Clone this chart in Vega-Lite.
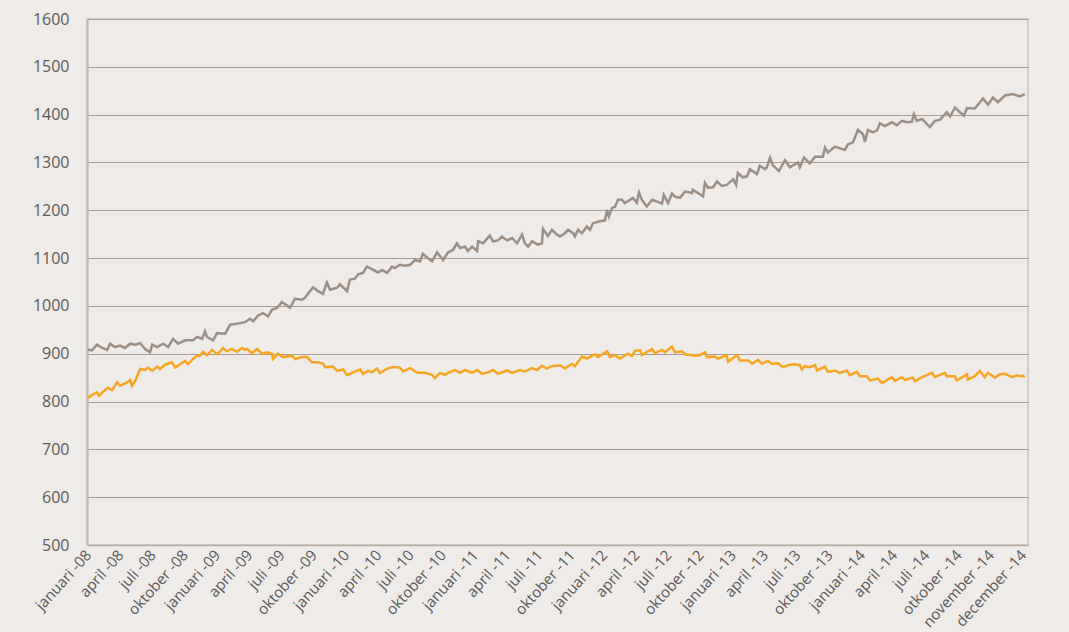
{
  "$schema": "https://vega.github.io/schema/vega-lite/v6.json",
  "width": 941,
  "height": 526,
  "autosize": {"type": "none"},
  "padding": {"left": 87, "top": 19, "right": 41, "bottom": 87},
  "background": "#efebe8",
  "config": {
    "font": "Open Sans",
    "view": {"stroke": "#cdc5be", "strokeWidth": 1.5}
  },
  "datasets": {
    "grey": [
      {"d":0,"v":909},{"d":11,"v":907},{"d":25,"v":919},{"d":40,"v":912},{"d":54,"v":908},{"d":62,"v":921},{"d":76,"v":914},{"d":90,"v":917},{"d":104,"v":912},{"d":119,"v":921},{"d":133,"v":919},{"d":147,"v":922},{"d":161,"v":910},{"d":175,"v":903},{"d":181,"v":919},{"d":195,"v":914},{"d":212,"v":921},{"d":226,"v":914},{"d":240,"v":931},{"d":254,"v":921},{"d":274,"v":928},{"d":296,"v":928},{"d":308,"v":935},{"d":322,"v":931},{"d":330,"v":947},{"d":336,"v":935},{"d":353,"v":928},{"d":364,"v":943},{"d":387,"v":942},{"d":401,"v":961},{"d":415,"v":962},{"d":429,"v":964},{"d":443,"v":966},{"d":457,"v":973},{"d":466,"v":968},{"d":480,"v":980},{"d":494,"v":985},{"d":508,"v":978},{"d":519,"v":992},{"d":533,"v":996},{"d":547,"v":1008},{"d":562,"v":1001},{"d":570,"v":996},{"d":584,"v":1015},{"d":604,"v":1013},{"d":612,"v":1017},{"d":635,"v":1039},{"d":649,"v":1031},{"d":663,"v":1025},{"d":674,"v":1049},{"d":683,"v":1034},{"d":703,"v":1038},{"d":711,"v":1045},{"d":731,"v":1031},{"d":739,"v":1055},{"d":753,"v":1057},{"d":762,"v":1066},{"d":776,"v":1069},{"d":787,"v":1082},{"d":804,"v":1076},{"d":818,"v":1070},{"d":830,"v":1075},{"d":844,"v":1069},{"d":858,"v":1082},{"d":866,"v":1079},{"d":880,"v":1086},{"d":895,"v":1084},{"d":909,"v":1086},{"d":923,"v":1096},{"d":937,"v":1093},{"d":945,"v":1109},{"d":959,"v":1100},{"d":971,"v":1093},{"d":985,"v":1112},{"d":1002,"v":1096},{"d":1016,"v":1112},{"d":1030,"v":1117},{"d":1041,"v":1131},{"d":1050,"v":1121},{"d":1064,"v":1124},{"d":1072,"v":1115},{"d":1084,"v":1124},{"d":1098,"v":1115},{"d":1101,"v":1135},{"d":1115,"v":1131},{"d":1134,"v":1147},{"d":1143,"v":1135},{"d":1157,"v":1137},{"d":1168,"v":1145},{"d":1183,"v":1137},{"d":1197,"v":1142},{"d":1211,"v":1131},{"d":1225,"v":1149},{"d":1233,"v":1131},{"d":1242,"v":1124},{"d":1253,"v":1135},{"d":1270,"v":1128},{"d":1281,"v":1131},{"d":1284,"v":1161},{"d":1298,"v":1146},{"d":1309,"v":1159},{"d":1324,"v":1149},{"d":1332,"v":1145},{"d":1346,"v":1152},{"d":1355,"v":1159},{"d":1369,"v":1152},{"d":1374,"v":1145},{"d":1383,"v":1159},{"d":1394,"v":1152},{"d":1408,"v":1166},{"d":1417,"v":1159},{"d":1425,"v":1173},{"d":1445,"v":1177},{"d":1459,"v":1179},{"d":1465,"v":1201},{"d":1470,"v":1187},{"d":1479,"v":1205},{"d":1487,"v":1207},{"d":1496,"v":1222},{"d":1507,"v":1222},{"d":1515,"v":1215},{"d":1530,"v":1222},{"d":1538,"v":1226},{"d":1549,"v":1216},{"d":1555,"v":1237},{"d":1563,"v":1222},{"d":1577,"v":1208},{"d":1592,"v":1222},{"d":1606,"v":1218},{"d":1620,"v":1214},{"d":1625,"v":1232},{"d":1637,"v":1215},{"d":1648,"v":1235},{"d":1657,"v":1228},{"d":1671,"v":1226},{"d":1685,"v":1239},{"d":1705,"v":1236},{"d":1707,"v":1243},{"d":1736,"v":1229},{"d":1741,"v":1257},{"d":1750,"v":1247},{"d":1764,"v":1248},{"d":1775,"v":1260},{"d":1789,"v":1251},{"d":1803,"v":1253},{"d":1821,"v":1265},{"d":1829,"v":1253},{"d":1834,"v":1278},{"d":1848,"v":1269},{"d":1860,"v":1271},{"d":1868,"v":1286},{"d":1888,"v":1276},{"d":1896,"v":1293},{"d":1911,"v":1286},{"d":1916,"v":1290},{"d":1925,"v":1310},{"d":1933,"v":1294},{"d":1950,"v":1282},{"d":1967,"v":1305},{"d":1981,"v":1290},{"d":2004,"v":1300},{"d":2009,"v":1290},{"d":2021,"v":1310},{"d":2037,"v":1298},{"d":2052,"v":1312},{"d":2074,"v":1312},{"d":2080,"v":1331},{"d":2088,"v":1321},{"d":2108,"v":1333},{"d":2136,"v":1326},{"d":2145,"v":1338},{"d":2159,"v":1342},{"d":2173,"v":1368},{"d":2187,"v":1359},{"d":2193,"v":1343},{"d":2201,"v":1368},{"d":2215,"v":1363},{"d":2227,"v":1367},{"d":2235,"v":1382},{"d":2249,"v":1376},{"d":2269,"v":1384},{"d":2283,"v":1378},{"d":2297,"v":1387},{"d":2311,"v":1384},{"d":2325,"v":1385},{"d":2331,"v":1401},{"d":2339,"v":1387},{"d":2354,"v":1391},{"d":2376,"v":1374},{"d":2390,"v":1387},{"d":2404,"v":1389},{"d":2424,"v":1405},{"d":2433,"v":1396},{"d":2447,"v":1415},{"d":2461,"v":1405},{"d":2472,"v":1398},{"d":2481,"v":1414},{"d":2503,"v":1413},{"d":2526,"v":1434},{"d":2540,"v":1421},{"d":2554,"v":1436},{"d":2568,"v":1426},{"d":2588,"v":1440},{"d":2610,"v":1443},{"d":2630,"v":1438},{"d":2644,"v":1443}
    ],
    "orange": [
      {"d":0,"v":807},{"d":11,"v":814},{"d":25,"v":819},{"d":31,"v":812},{"d":42,"v":820},{"d":56,"v":829},{"d":68,"v":824},{"d":82,"v":840},{"d":90,"v":833},{"d":110,"v":840},{"d":119,"v":845},{"d":124,"v":833},{"d":133,"v":843},{"d":147,"v":868},{"d":161,"v":866},{"d":169,"v":871},{"d":181,"v":864},{"d":195,"v":873},{"d":203,"v":868},{"d":217,"v":877},{"d":237,"v":882},{"d":246,"v":871},{"d":274,"v":885},{"d":282,"v":878},{"d":296,"v":889},{"d":308,"v":896},{"d":316,"v":896},{"d":325,"v":904},{"d":336,"v":897},{"d":350,"v":908},{"d":364,"v":899},{"d":373,"v":905},{"d":381,"v":912},{"d":392,"v":905},{"d":406,"v":910},{"d":420,"v":904},{"d":435,"v":912},{"d":443,"v":908},{"d":449,"v":910},{"d":463,"v":901},{"d":477,"v":910},{"d":491,"v":900},{"d":505,"v":903},{"d":519,"v":900},{"d":522,"v":889},{"d":536,"v":900},{"d":550,"v":893},{"d":576,"v":896},{"d":584,"v":889},{"d":604,"v":893},{"d":618,"v":893},{"d":632,"v":882},{"d":646,"v":882},{"d":663,"v":880},{"d":669,"v":872},{"d":691,"v":873},{"d":703,"v":864},{"d":720,"v":867},{"d":731,"v":855},{"d":748,"v":861},{"d":768,"v":867},{"d":776,"v":858},{"d":790,"v":864},{"d":801,"v":861},{"d":816,"v":869},{"d":824,"v":859},{"d":844,"v":869},{"d":861,"v":872},{"d":880,"v":871},{"d":889,"v":863},{"d":909,"v":870},{"d":923,"v":863},{"d":931,"v":860},{"d":951,"v":860},{"d":971,"v":856},{"d":979,"v":849},{"d":993,"v":860},{"d":1007,"v":856},{"d":1016,"v":860},{"d":1036,"v":866},{"d":1050,"v":860},{"d":1064,"v":866},{"d":1084,"v":860},{"d":1098,"v":866},{"d":1112,"v":858},{"d":1129,"v":861},{"d":1143,"v":866},{"d":1157,"v":858},{"d":1183,"v":865},{"d":1197,"v":860},{"d":1219,"v":866},{"d":1233,"v":863},{"d":1253,"v":870},{"d":1267,"v":866},{"d":1281,"v":875},{"d":1295,"v":869},{"d":1309,"v":874},{"d":1332,"v":876},{"d":1346,"v":869},{"d":1366,"v":879},{"d":1374,"v":874},{"d":1394,"v":894},{"d":1408,"v":890},{"d":1431,"v":899},{"d":1439,"v":893},{"d":1465,"v":905},{"d":1473,"v":893},{"d":1487,"v":897},{"d":1501,"v":890},{"d":1524,"v":900},{"d":1535,"v":895},{"d":1544,"v":906},{"d":1558,"v":907},{"d":1563,"v":897},{"d":1592,"v":910},{"d":1600,"v":901},{"d":1620,"v":908},{"d":1628,"v":903},{"d":1648,"v":915},{"d":1657,"v":903},{"d":1676,"v":905},{"d":1685,"v":899},{"d":1713,"v":896},{"d":1727,"v":897},{"d":1741,"v":903},{"d":1747,"v":893},{"d":1769,"v":894},{"d":1778,"v":890},{"d":1803,"v":897},{"d":1806,"v":883},{"d":1832,"v":897},{"d":1840,"v":886},{"d":1863,"v":886},{"d":1874,"v":879},{"d":1891,"v":887},{"d":1902,"v":879},{"d":1919,"v":885},{"d":1930,"v":879},{"d":1947,"v":880},{"d":1961,"v":872},{"d":1975,"v":876},{"d":1995,"v":878},{"d":2009,"v":876},{"d":2015,"v":867},{"d":2023,"v":874},{"d":2037,"v":872},{"d":2052,"v":876},{"d":2057,"v":865},{"d":2080,"v":873},{"d":2088,"v":862},{"d":2108,"v":865},{"d":2122,"v":860},{"d":2142,"v":865},{"d":2150,"v":855},{"d":2170,"v":862},{"d":2179,"v":853},{"d":2198,"v":853},{"d":2207,"v":844},{"d":2229,"v":848},{"d":2241,"v":839},{"d":2269,"v":851},{"d":2277,"v":843},{"d":2297,"v":851},{"d":2306,"v":845},{"d":2328,"v":850},{"d":2334,"v":843},{"d":2354,"v":851},{"d":2382,"v":860},{"d":2390,"v":851},{"d":2418,"v":860},{"d":2424,"v":853},{"d":2447,"v":853},{"d":2452,"v":844},{"d":2481,"v":857},{"d":2483,"v":846},{"d":2503,"v":853},{"d":2517,"v":864},{"d":2531,"v":851},{"d":2540,"v":860},{"d":2560,"v":850},{"d":2574,"v":857},{"d":2588,"v":858},{"d":2608,"v":851},{"d":2622,"v":855},{"d":2630,"v":853},{"d":2639,"v":854},{"d":2644,"v":851}
    ]
  },
  "encoding": {
    "x": {
      "field": "d",
      "type": "quantitative",
      "scale": {"domain": [-3, 2653], "nice": false, "zero": false},
      "axis": {
        "title": null,
        "values": [0,91,182,273,364,455,546,637,728,819,910,1001,1092,1183,1274,1365,1456,1547,1638,1729,1820,1911,2002,2093,2184,2275,2366,2457,2548,2639],
        "labelExpr": "['januari -08','april -08','juli -08','oktober -08','januari -09','april -09','juli -09','oktober -09','januari -10','april -10','juli -10','oktober -10','januari -11','april -11','juli -11','oktober -11','januari -12','april -12','juli -12','oktober -12','januari -13','april -13','juli -13','oktober -13','januari -14','april -14','juli -14','otkober -14','november -14','december -14'][round(datum.value / 91)]",
        "labelAngle": -48,
        "labelAlign": "right",
        "labelBaseline": "middle",
        "labelPadding": 7,
        "labelFontSize": 15,
        "labelColor": "#5a5a5a",
        "labelOverlap": false,
        "labelBound": false,
        "labelFlush": false,
        "ticks": false,
        "grid": false,
        "domain": true,
        "domainColor": "#b8aea5",
        "domainWidth": 1.5
      }
    },
    "y": {
      "field": "v",
      "type": "quantitative",
      "scale": {"domain": [500, 1600], "nice": false, "zero": false},
      "axis": {
        "title": null,
        "format": "d",
        "values": [500,600,700,800,900,1000,1100,1200,1300,1400,1500,1600],
        "labelFontSize": 16,
        "labelColor": "#5a5a5a",
        "labelPadding": 18,
        "ticks": false,
        "tickSize": 0,
        "grid": true,
        "gridColor": "#a69c93",
        "gridWidth": 1,
        "domain": true,
        "domainColor": "#c8bfb8",
        "domainWidth": 2.5
      }
    }
  },
  "layer": [
    {
      "data": {"name": "grey"},
      "mark": {"type": "line", "color": "#9c8f86", "strokeWidth": 2.5, "strokeJoin": "miter"}
    },
    {
      "data": {"name": "orange"},
      "mark": {"type": "line", "color": "#f6a623", "strokeWidth": 2.5, "strokeJoin": "miter"}
    }
  ]
}
